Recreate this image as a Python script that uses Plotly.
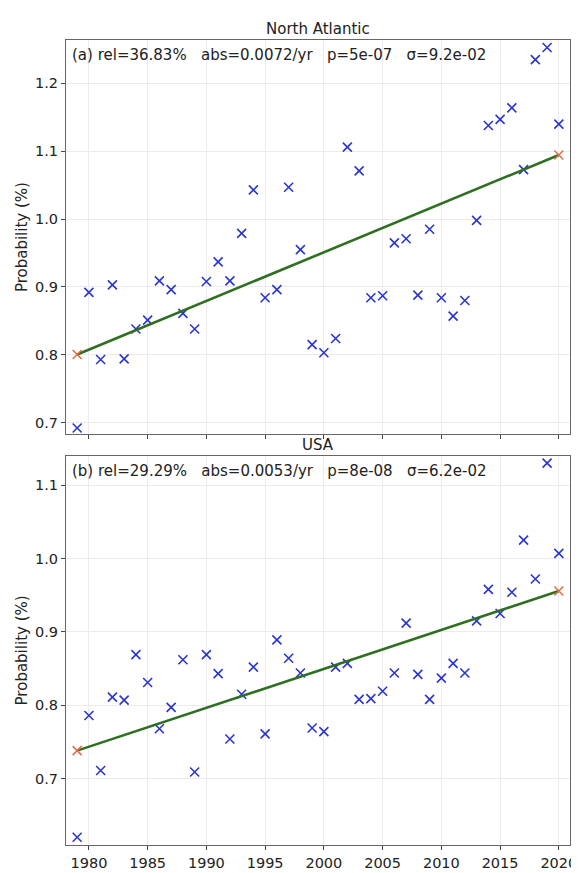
import numpy as np
import plotly.graph_objects as go
from plotly.subplots import make_subplots

years = list(range(1979, 2021))

north_atlantic = [0.692, 0.892, 0.793, 0.903, 0.794, 0.838, 0.851, 0.909, 0.896, 0.861,
                  0.838, 0.908, 0.937, 0.909, 0.979, 1.043, 0.884, 0.896, 1.047, 0.955,
                  0.815, 0.803, 0.824, 1.106, 1.071, 0.884, 0.887, 0.965, 0.971, 0.888,
                  0.985, 0.884, 0.857, 0.880, 0.998, 1.138, 1.147, 1.164, 1.073, 1.235,
                  1.253, 1.140]

usa = [0.620, 0.786, 0.711, 0.811, 0.807, 0.869, 0.831, 0.768, 0.797, 0.862,
       0.709, 0.869, 0.843, 0.754, 0.815, 0.852, 0.761, 0.889, 0.864, 0.844,
       0.769, 0.764, 0.852, 0.857, 0.808, 0.809, 0.819, 0.844, 0.912, 0.842,
       0.808, 0.837, 0.857, 0.844, 0.915, 0.958, 0.925, 0.954, 1.025, 0.972,
       1.130, 1.007]

titles = ['North Atlantic', 'USA']
stats = [
    '(a) rel=36.83%   abs=0.0072/yr   p=5e-07   σ=9.2e-02',
    '(b) rel=29.29%   abs=0.0053/yr   p=8e-08   σ=6.2e-02',
]
y_ranges = [[0.683, 1.264], [0.6095, 1.140]]
y_ticks = [[0.7, 0.8, 0.9, 1.0, 1.1, 1.2], [0.7, 0.8, 0.9, 1.0, 1.1]]
x_ticks = [1980, 1985, 1990, 1995, 2000, 2005, 2010, 2015, 2020]

FONT = 'DejaVu Sans'
BLUE = '#2a35d0'
GREEN = '#2f6f22'
ORANGE = '#e0704a'
TEXT = '#222222'

fig = make_subplots(rows=2, cols=1, shared_xaxes=True, vertical_spacing=0.03)

for i, series in enumerate([north_atlantic, usa]):
    row = i + 1
    x = np.array(years, dtype=float)
    y = np.array(series)
    # linear trend, as in the original
    slope, intercept = np.polyfit(x, y, 1)
    ends = [years[0], years[-1]]
    fit = [slope * e + intercept for e in ends]

    fig.add_trace(go.Scatter(
        x=years, y=series, mode='markers',
        marker=dict(symbol='x-thin', size=9, line=dict(width=1.6, color=BLUE)),
        showlegend=False
    ), row=row, col=1)

    fig.add_trace(go.Scatter(
        x=ends, y=fit, mode='lines',
        line=dict(color=GREEN, width=2.6),
        showlegend=False
    ), row=row, col=1)

    fig.add_trace(go.Scatter(
        x=ends, y=fit, mode='markers',
        marker=dict(symbol='x-thin', size=9, line=dict(width=1.6, color=ORANGE)),
        showlegend=False
    ), row=row, col=1)

    xref = 'x domain' if row == 1 else 'x2 domain'
    yref = 'y domain' if row == 1 else 'y2 domain'

    fig.add_annotation(
        text=stats[i], xref=xref, yref=yref, x=0.008, y=0.962,
        xanchor='left', yanchor='middle', showarrow=False,
        font=dict(family=FONT, size=15, color=TEXT)
    )
    fig.add_annotation(
        text=titles[i], xref=xref, yref=yref, x=0.5, y=1,
        xanchor='center', yanchor='bottom', yshift=0, showarrow=False,
        font=dict(family=FONT, size=15, color=TEXT)
    )

    fig.update_yaxes(
        range=y_ranges[i], tickvals=y_ticks[i], tickformat='.1f',
        title=dict(text='Probability (%)', standoff=3,
                   font=dict(family=FONT, size=15, color=TEXT)),
        row=row, col=1
    )

fig.update_xaxes(
    range=[1978.05, 2020.95], tickvals=x_ticks,
    showgrid=True, gridcolor='#ebebeb', gridwidth=1,
    showline=True, linecolor='#666666', linewidth=1.2, mirror=True,
    ticks='outside', ticklen=4, tickcolor='#444444',
    tickfont=dict(family=FONT, size=14.5, color=TEXT),
    zeroline=False
)
fig.update_yaxes(
    showgrid=True, gridcolor='#ebebeb', gridwidth=1,
    showline=True, linecolor='#666666', linewidth=1.2, mirror=True,
    ticks='outside', ticklen=4, tickcolor='#444444',
    tickfont=dict(family=FONT, size=14.5, color=TEXT),
    zeroline=False
)

fig.update_layout(
    width=579, height=873,
    margin=dict(l=58, r=10, t=32, b=22),
    paper_bgcolor='white',
    plot_bgcolor='white',
    font=dict(family=FONT, size=15, color=TEXT),
    showlegend=False
)
fig.layout.yaxis.domain = [0.5104, 1.0]
fig.layout.yaxis2.domain = [0.0, 0.4835]

fig.write_html('out.html')
